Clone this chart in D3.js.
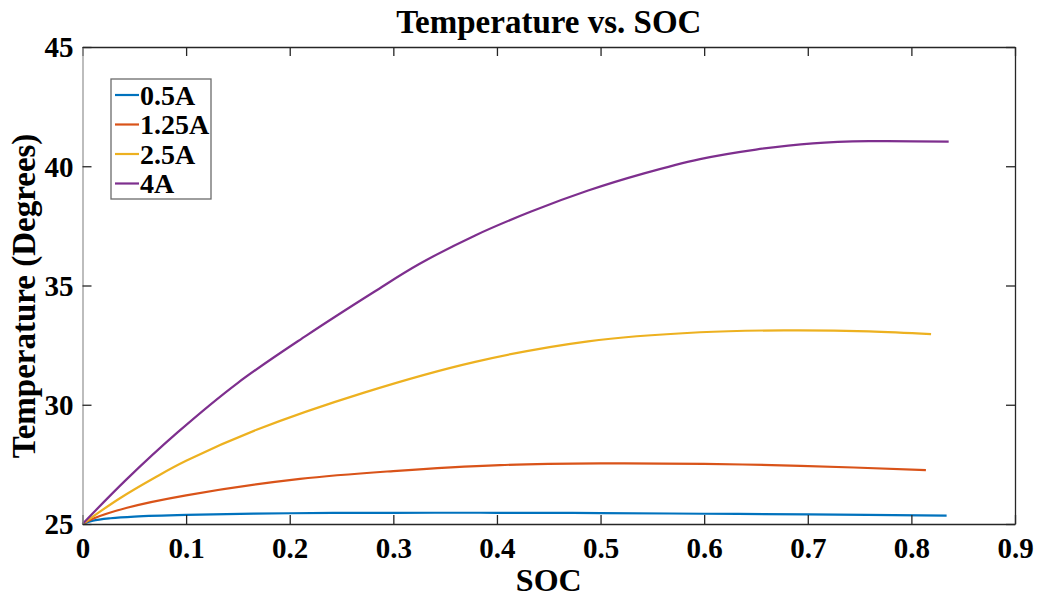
<!DOCTYPE html>
<html>
<head>
<meta charset="utf-8">
<script src="https://cdn.jsdelivr.net/npm/d3@7"></script>
<style>
  html, body { margin: 0; padding: 0; background: #fff; }
  svg text { font-family: "Liberation Serif", "Times New Roman", serif; font-weight: bold; fill: #000; }
</style>
</head>
<body>
<svg id="chart" width="1038" height="599"></svg>
<script>
// series names and colors (MATLAB default order)
const seriesNames = ["0.5A", "1.25A", "2.5A", "4A"];
const seriesColors = ["#0072BD", "#D95319", "#EDB120", "#7E2F8E"];

// SOC / temperature
const soc05 = [0, 0.01, 0.027, 0.05, 0.1, 0.2, 0.3, 0.4, 0.5, 0.6, 0.7, 0.834];
const temp05 = [25, 25.14, 25.24, 25.31, 25.38, 25.45, 25.47, 25.47, 25.46, 25.43, 25.40, 25.35];

const soc125 = [0, 0.01, 0.043, 0.1, 0.21, 0.3, 0.403, 0.5, 0.6, 0.693, 0.814];
const temp125 = [25, 25.22, 25.68, 26.2, 26.89, 27.22, 27.47, 27.54, 27.52, 27.44, 27.26];

const soc25 = [0, 0.035, 0.07, 0.1, 0.168, 0.271, 0.379, 0.488, 0.596, 0.677, 0.759, 0.819];
const temp25 = [25, 26.05, 26.95, 27.65, 28.95, 30.5, 31.8, 32.66, 33.04, 33.12, 33.08, 32.96];

const soc4 = [0, 0.042, 0.092, 0.15, 0.216, 0.282, 0.325, 0.379, 0.433, 0.488, 0.542, 0.596, 0.65, 0.705, 0.759, 0.836];
const temp4 = [25, 26.85, 28.85, 30.92, 32.9, 34.75, 35.9, 37.1, 38.1, 38.98, 39.7, 40.3, 40.7, 40.96, 41.05, 41.03];

const xTicks = [0, 0.1, 0.2, 0.3, 0.4, 0.5, 0.6, 0.7, 0.8, 0.9];
const yTicks = [25, 30, 35, 40, 45];

const series = [
  { soc: soc05, temp: temp05 },
  { soc: soc125, temp: temp125 },
  { soc: soc25, temp: temp25 },
  { soc: soc4, temp: temp4 }
].map((s, i) => ({
  name: seriesNames[i],
  color: seriesColors[i],
  points: s.soc.map((x, j) => ({ x, y: s.temp[j] }))
}));

const svg = d3.select("#chart");
const margin = { top: 47, right: 23, bottom: 75, left: 82.5 };
const W = 1038, H = 599;
const innerW = W - margin.left - margin.right;
const innerH = H - margin.top - margin.bottom;

const x = d3.scaleLinear().domain([0, 0.9]).range([0, innerW]);
const y = d3.scaleLinear().domain([25, 45]).range([innerH, 0]);

const g = svg.append("g").attr("transform", `translate(${margin.left}, ${margin.top})`);

// curves
const line = d3.line()
  .x((d) => x(d.x))
  .y((d) => y(d.y))
  .curve(d3.curveCatmullRom.alpha(0.5));

g.selectAll("path.series")
  .data(series)
  .enter()
  .append("path")
  .attr("class", "series")
  .attr("fill", "none")
  .attr("stroke", (d) => d.color)
  .attr("stroke-width", 2.2)
  .attr("d", (d) => line(d.points));

// axes, MATLAB style: ticks inside, box on
const tickLen = 9;
const axisColor = "#262626";

const xAxis = g.append("g").attr("transform", `translate(0, ${innerH})`)
  .call(d3.axisBottom(x).tickValues(xTicks).tickFormat(d3.format("")).tickSizeInner(-tickLen).tickSizeOuter(0).tickPadding(13));
const xTop = g.append("g")
  .call(d3.axisTop(x).tickValues(xTicks).tickFormat("").tickSizeInner(-tickLen).tickSizeOuter(0));
const yAxis = g.append("g")
  .call(d3.axisLeft(y).tickValues(yTicks).tickSizeInner(-tickLen).tickSizeOuter(0).tickPadding(9));
const yRight = g.append("g").attr("transform", `translate(${innerW}, 0)`)
  .call(d3.axisRight(y).tickValues(yTicks).tickFormat("").tickSizeInner(-tickLen).tickSizeOuter(0));

[xAxis, xTop, yAxis, yRight].forEach((a) => {
  a.attr("font-family", null);
  a.select(".domain").attr("stroke", axisColor).attr("stroke-width", 1.3);
  a.selectAll(".tick line").attr("stroke", axisColor).attr("stroke-width", 1.3);
  a.selectAll(".tick text").attr("font-size", 29).attr("fill", "#262626");
});
yAxis.select(".domain").attr("stroke", "#9a9a9a");
xAxis.selectAll(".tick text").attr("dy", "0.71em");
yAxis.selectAll(".tick text").attr("dy", "0.34em");

// title and labels
svg.append("text")
  .attr("x", margin.left + innerW / 2)
  .attr("y", 33)
  .attr("text-anchor", "middle")
  .attr("font-size", 33)
  .text("Temperature vs. SOC");

svg.append("text")
  .attr("x", margin.left + innerW / 2)
  .attr("y", 591)
  .attr("text-anchor", "middle")
  .attr("font-size", 32)
  .text("SOC");

svg.append("text")
  .attr("transform", "translate(35, 296) rotate(-90)")
  .attr("text-anchor", "middle")
  .attr("font-size", 33)
  .text("Temperature (Degrees)");

// legend
const legend = svg.append("g").attr("transform", "translate(111, 79)");
legend.append("rect")
  .attr("width", 100)
  .attr("height", 120)
  .attr("fill", "#fff")
  .attr("stroke", "#6b6b6b")
  .attr("stroke-width", 1.3);

const rowH = 29.5;
const rows = legend.selectAll("g.row")
  .data(series)
  .enter()
  .append("g")
  .attr("class", "row")
  .attr("transform", (d, i) => `translate(0, ${16 + i * rowH})`);

rows.append("line")
  .attr("x1", 4).attr("x2", 28)
  .attr("stroke", (d) => d.color)
  .attr("stroke-width", 2.2);

rows.append("text")
  .attr("x", 29)
  .attr("dy", "0.35em")
  .attr("font-size", 28)
  .text((d) => d.name);
</script>
</body>
</html>
